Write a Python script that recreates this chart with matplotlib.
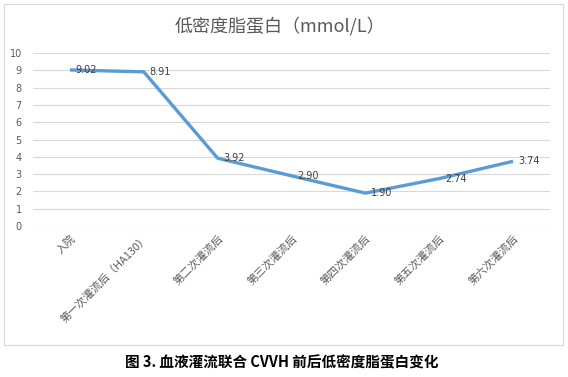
import matplotlib.pyplot as plt
from matplotlib.patches import Rectangle

plt.rcParams['font.family'] = ['Noto Sans CJK SC', 'DejaVu Sans']
plt.rcParams['axes.unicode_minus'] = False

# 数据
categories = ['入院', '第一次灌流后（HA130）', '第二次灌流后', '第三次灌流后',
              '第四次灌流后', '第五次灌流后', '第六次灌流后']
ldl = [9.02, 8.91, 3.92, 2.90, 1.90, 2.74, 3.74]
yticks = list(range(0, 11))

fig = plt.figure(figsize=(5.68, 3.77), dpi=100)
ax = fig.add_axes([33 / 568, 1 - 226 / 377, 517 / 568, 173 / 377])

x = list(range(len(categories)))
ax.plot(x, ldl, color='#5B9BD5', linewidth=2.4, solid_capstyle='butt')

# 数据标签
for xi, v in zip(x, ldl):
    ax.annotate(f'{v:.2f}', (xi, v), xytext=(4, 0), textcoords='offset points',
                ha='left', va='center', fontsize=7, color='#404040',
                family=['DejaVu Sans'])

ax.set_xlim(-0.5, len(categories) - 0.5)
ax.set_ylim(0, 10)
ax.set_yticks(yticks)
ax.set_yticklabels([str(t) for t in yticks], fontsize=7, color='#595959',
                   family=['DejaVu Sans'])
ax.set_xticks(x)
ax.set_xticklabels(categories, rotation=45, ha='right', rotation_mode='anchor',
                   fontsize=7.8, color='#595959')
ax.tick_params(axis='y', length=0, pad=8)
ax.tick_params(axis='x', length=0, pad=5)
ax.grid(True, axis='y', color='#D9D9D9', linewidth=0.8)
ax.set_axisbelow(True)
for s in ax.spines.values():
    s.set_visible(False)

# 标题
fig.text(280 / 568, 1 - 26 / 377, '低密度脂蛋白（mmol/L）', ha='center', va='center',
         fontsize=13, color='#595959')

# 图表边框
fig.patches.append(Rectangle((4 / 568, 1 - 345 / 377), 559 / 568, 341 / 377,
                             transform=fig.transFigure, fill=False,
                             edgecolor='#D9D9D9', linewidth=0.8))

# 图注
fig.text(282 / 568, 1 - 362 / 377, '图 3. 血液灌流联合 CVVH 前后低密度脂蛋白变化',
         ha='center', va='center', fontsize=10.5, fontweight='bold', color='black')

fig.savefig('out.png', dpi=100)
